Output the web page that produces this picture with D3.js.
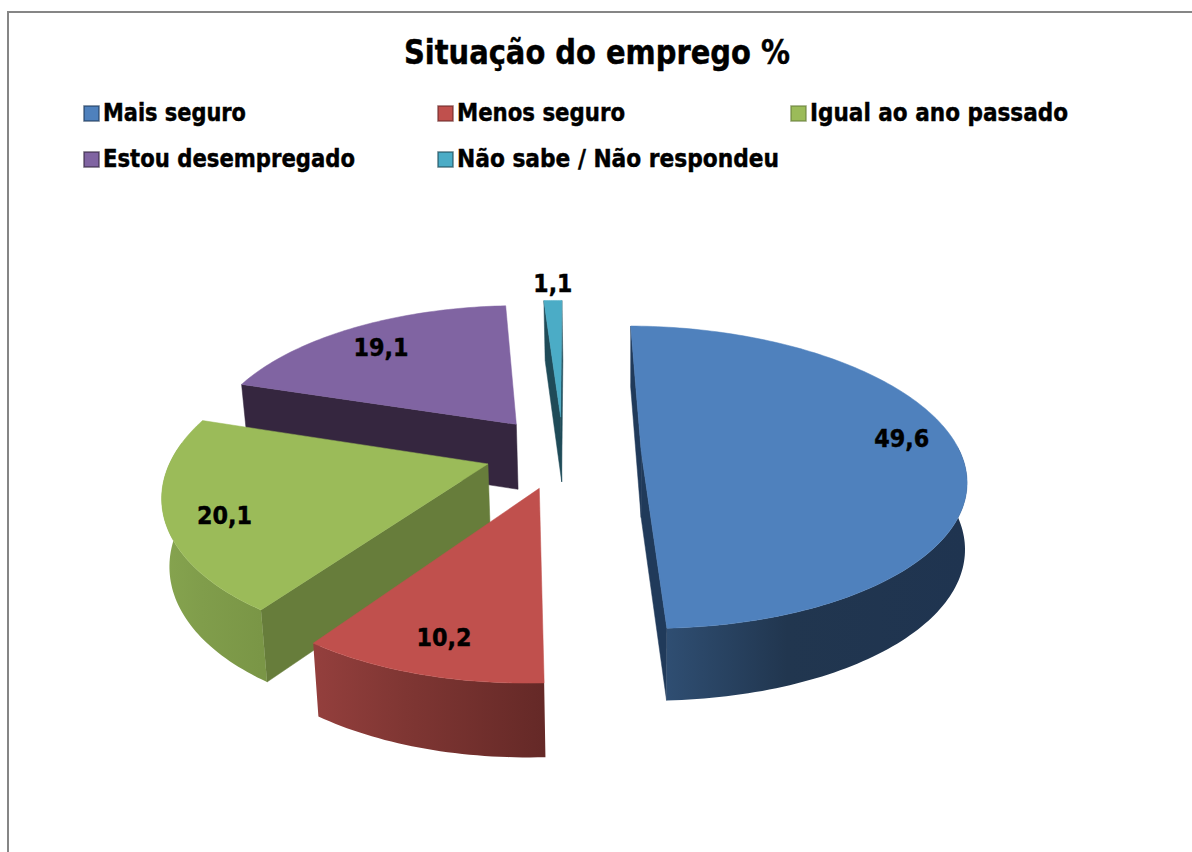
<!DOCTYPE html>
<html><head><meta charset="utf-8">
<script src="https://cdn.jsdelivr.net/npm/d3@7/dist/d3.min.js"></script>
<style>html,body{margin:0;padding:0;background:#fff}svg{display:block}text{font-family:"DejaVu Sans",sans-serif;font-weight:bold;fill:#000;stroke:#000;stroke-width:.45px}</style>
</head><body><svg id="c" width="1192" height="852"></svg>
<script>
const categories = ["Mais seguro","Menos seguro","Igual ao ano passado","Estou desempregado","Não sabe / Não respondeu"];
const values = [49.6,10.2,20.1,19.1,1.1];
const valueLabels = ["49,6","10,2","20,1","19,1","1,1"];
const topColors = ["#4f81bd","#c0504d","#9bbb59","#8064a2","#4bacc6"];
const cutColors = ["#203a5a","#6b2a28","#677d3b","#35263f","#1f4b58"];
const wallLeft  = ["#2f4e72","#943f3d","#86a44f","#6a5386","#3f90a6"];
const wallMid   = ["#21364f","#7f3633","#809d4b","#4a3a5e","#2f6e80"];
const wallRight = ["#1f3450","#652927","#7a9646","#35263f","#1f4b58"];
const titleText = "Situação do emprego %";

const svg = d3.select("#c");
const defs = svg.append("defs");

// frame
svg.append("path").attr("d","M8,852V12H1192").attr("fill","none").attr("stroke","#868686").attr("stroke-width",2);

// title
svg.append("text").attr("x",404).attr("y",64).attr("font-size",33)
  .attr("textLength",386).attr("lengthAdjust","spacingAndGlyphs").text(titleText);

// legend
const legendCols = [83,437,790], legendRows = [105,151];
const legendWidths = [143,168,258,252,322];
categories.forEach((c,i)=>{
  const col = i<3 ? i : i-3, row = i<3 ? 0 : 1;
  const x = legendCols[col], y = legendRows[row];
  svg.append("rect").attr("x",x+1).attr("y",y+1).attr("width",15).attr("height",15)
    .attr("fill",topColors[i]).attr("stroke",cutColors[i]).attr("stroke-opacity",.7).attr("stroke-width",1.5);
  svg.append("text").attr("x",x+20).attr("y",y+16).attr("font-size",24)
    .attr("textLength",legendWidths[i]).attr("lengthAdjust","spacingAndGlyphs").text(c);
});

// 3D exploded pie
const cx=563, cy=452, R=316, A=0.467, D=1850, EXPLODE=78, SHIFT=-100, HEIGHT=66, ROLL=0.03, LENS=5e-5;
const pieGen = d3.pie().sort(null).startAngle(-3.7*Math.PI/180).endAngle((360-3.7)*Math.PI/180);
const arcs = pieGen(values);

function project(wx,wy,down){
  const s = 1/(1+wy/D);
  const dx = wx*s + SHIFT*(s-1);
  const dy = -A*wy*s;
  let X = cx + dx - ROLL*dy + LENS*dx*dx;
  let Y = cy + dy + ROLL*dx;
  if(down){ Y += HEIGHT*Math.sqrt(s); X += (620-X)*(X<620?0.017:0.006); }
  return [X,Y];
}
function pt(a,r,ang,down){
  const mid=(a.startAngle+a.endAngle)/2;
  const wx=EXPLODE*Math.sin(mid)+r*Math.sin(ang);
  const wy=EXPLODE*Math.cos(mid)+r*Math.cos(ang);
  return project(wx,wy,down);
}
const line = d3.line();
function arcPts(a,down){
  const n=Math.max(8,Math.ceil((a.endAngle-a.startAngle)/0.02));
  return d3.range(n+1).map(k=>pt(a,R,a.startAngle+(a.endAngle-a.startAngle)*k/n,down));
}
function signedArea(p){
  return d3.sum(p,(q,i)=>{const n=p[(i+1)%p.length];return q[0]*n[1]-n[0]*q[1];});
}
// painter order: back to front
const order=[3,4,0,2,1];
order.forEach(i=>{
  const a=arcs[i];
  const g=svg.append("g");
  const apexT=pt(a,0,0,false), apexB=pt(a,0,0,true);
  const topArc=arcPts(a,false), botArc=arcPts(a,true);
  const startFace=[apexT,topArc[0],botArc[0],apexB];
  const endFace=[topArc[topArc.length-1],apexT,apexB,botArc[botArc.length-1]];
  [startFace,endFace].forEach(f=>{
    if(signedArea(f)<0) g.append("path").attr("d",line(f)+"Z").attr("fill",cutColors[i]).attr("stroke",cutColors[i]).attr("stroke-width",.5);
  });
  // front part of the outer wall
  const idx=d3.range(topArc.length).filter(k=>{
    const ang=a.startAngle+(a.endAngle-a.startAngle)*k/(topArc.length-1);
    return Math.cos(ang)<0.1;
  });
  if(idx.length>1){
    const t=idx.map(k=>topArc[k]), b=idx.map(k=>botArc[k]);
    const gid="w"+i;
    const gr=defs.append("linearGradient").attr("id",gid).attr("gradientUnits","userSpaceOnUse")
      .attr("x1",d3.min(t,d=>d[0])).attr("x2",d3.max(t,d=>d[0])).attr("y1",0).attr("y2",0);
    gr.append("stop").attr("offset",0).attr("stop-color",wallLeft[i]);
    gr.append("stop").attr("offset",.4).attr("stop-color",wallMid[i]);
    gr.append("stop").attr("offset",1).attr("stop-color",wallRight[i]);
    g.append("path").attr("d",line(t.concat(b.slice().reverse()))+"Z").attr("fill",`url(#${gid})`);
  }
  g.append("path").attr("d",line([apexT].concat(topArc))+"Z").attr("fill",topColors[i]).attr("stroke",topColors[i]).attr("stroke-width",.5);
});

// value labels
arcs.forEach((a,i)=>{
  const mid=(a.startAngle+a.endAngle)/2;
  const outside = a.value<5;
  const p = pt(a, R*(outside?1.0:0.82), mid, false);
  const ly = p[1]-ROLL*(p[0]-cx);
  svg.append("text").attr("x",p[0]).attr("y",ly+(outside?-9:7)).attr("text-anchor","middle")
    .attr("font-size",24).attr("textLength",outside?39:55).attr("lengthAdjust","spacingAndGlyphs").text(valueLabels[i]);
});
</script></body></html>
